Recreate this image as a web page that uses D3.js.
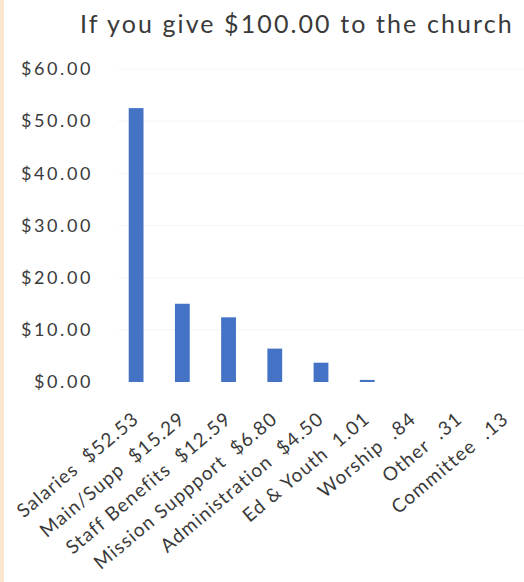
<!DOCTYPE html>
<html>
<head>
<meta charset="utf-8">
<script src="https://cdn.jsdelivr.net/npm/d3@7"></script>
<style>
  body { margin: 0; background: #fff; }
  svg { display: block; }
  text { font-family: Lato, "Open Sans", sans-serif; fill: #3a3a3a; white-space: pre; }
</style>
</head>
<body>
<svg width="524" height="582"></svg>
<script>
var svg = d3.select('svg');

// data
var categories = ["Salaries  $52.53", "Main/Supp  $15.29", "Staff Benefits  $12.59",
                  "Mission Suppport  $6.80", "Administration  $4.50", "Ed & Youth  1.01",
                  "Worship  .84", "Other  .31", "Committee  .13"];
var amounts = [52.5, 15.0, 12.4, 6.4, 3.7, 0.4, 0, 0, 0];
var yTicks = [0, 10, 20, 30, 40, 50, 60];
var title = "If you give $100.00 to the church";

svg.append("rect")
    .attr("width", "100%")
    .attr("height", "100%")
    .attr("fill", "#ffffff");

// scanned paper edge on the left
svg.append("rect")
    .attr("x", 0).attr("y", 0)
    .attr("width", 4).attr("height", 582)
    .attr("fill", "#fbe6cf");

var x = d3.scaleBand()
    .domain(categories)
    .range([113, 529])
    .paddingInner(0.68)
    .paddingOuter(0.34);

var y = d3.scaleLinear()
    .domain([0, 60])
    .range([382, 69]);

// very faint gridlines
svg.append("g")
    .selectAll("line")
    .data(yTicks.slice(1))
    .enter()
    .append("line")
    .attr("x1", 118).attr("x2", 524)
    .attr("y1", function(d) { return y(d); })
    .attr("y2", function(d) { return y(d); })
    .attr("stroke", "#f5f5f5")
    .attr("stroke-width", 1);

// y axis labels
var yAxis = d3.axisLeft(y)
    .tickValues(yTicks)
    .tickSize(0)
    .tickPadding(0)
    .tickFormat(function(d) { return "$" + d3.format(".2f")(d); });

var ya = svg.append("g")
    .attr("transform", "translate(93,0)")
    .call(yAxis);
ya.select(".domain").remove();
ya.selectAll("text")
    .attr("font-size", 18)
    .attr("fill", "#3a3a3a")
    .style("font-family", "Lato, 'Open Sans', sans-serif")
    .style("letter-spacing", "2.6px");

// bars
svg.append("g")
    .selectAll("rect")
    .data(amounts)
    .enter()
    .append("rect")
    .attr("x", function(d, i) { return x(categories[i]); })
    .attr("y", function(d) { return y(d); })
    .attr("width", x.bandwidth())
    .attr("height", function(d) { return y(0) - y(d); })
    .attr("fill", "#4472c4");

// x axis labels, rotated
var xAxis = d3.axisBottom(x).tickSize(0).tickPadding(0);
var xa = svg.append("g")
    .attr("transform", "translate(0,382)")
    .call(xAxis);
xa.select(".domain").remove();
xa.selectAll("text")
    .attr("font-size", 19)
    .attr("fill", "#3a3a3a")
    .style("font-family", "Lato, 'Open Sans', sans-serif")
    .style("letter-spacing", "1.2px")
    .attr("text-anchor", "end")
    .attr("y", 0)
    .attr("dy", 0)
    .attr("transform", "translate(4,39) rotate(-40)");

// title
svg.append("text")
    .attr("x", 80)
    .attr("y", 33)
    .attr("font-size", 25)
    .style("letter-spacing", "2.1px")
    .text(title);
</script>
</body>
</html>
